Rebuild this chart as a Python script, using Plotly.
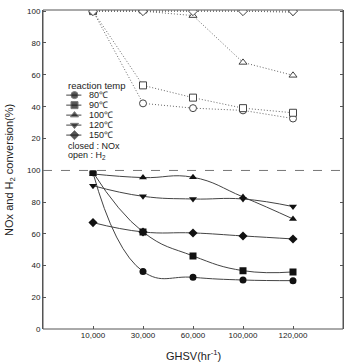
import plotly.graph_objects as go

ghsv = ["10,000", "30,000", "60,000", "100,000", "120,000"]
temps = ["80℃", "90℃", "100℃", "120℃", "150℃"]

# NOx conversion (closed symbols, lower panel)
nox_80 = [98.5, 36.3, 32.6, 30.9, 30.5]
nox_90 = [98.8, 61.2, 46.1, 36.8, 36.0]
nox_100 = [97.8, 95.5, 95.7, 83.3, 69.4]
nox_120 = [90.4, 83.7, 82.0, 82.0, 77.2]
nox_150 = [67.1, 61.2, 60.6, 58.7, 56.8]

# H2 conversion (open symbols, upper panel)
h2_80 = [100, 42.1, 39.1, 37.7, 32.6]
h2_90 = [100, 53.4, 45.7, 39.1, 36.2]
h2_100 = [100, 100, 97.2, 67.8, 59.7]
h2_120 = [100, 100, 100, 100, 99.3]
h2_150 = [100, 100, 100, 100, 100]

lower_ticks = [0, 20, 40, 60, 80, 100]
upper_ticks = [20, 40, 60, 80, 100]

nox = [nox_80, nox_90, nox_100, nox_120, nox_150]
h2 = [h2_80, h2_90, h2_100, h2_120, h2_150]
symbols = ["circle", "square", "triangle-up", "triangle-down", "diamond"]

FONT = "Arial, Liberation Sans, sans-serif"
INK = "#222222"
fig = go.Figure()

for vals, sym in zip(h2, symbols):
    fig.add_trace(go.Scatter(
        x=ghsv, y=vals, xaxis="x", yaxis="y2", mode="lines+markers",
        line=dict(color="#666666", width=1, dash="1px,2px"),
        marker=dict(symbol=sym, size=7, color="white", line=dict(color="#444444", width=1)),
        showlegend=False))

for vals, sym in zip(nox, symbols):
    fig.add_trace(go.Scatter(
        x=ghsv, y=vals, xaxis="x", yaxis="y", mode="lines+markers",
        line=dict(color="#444444", width=1, shape="spline", smoothing=1.3),
        marker=dict(symbol=sym, size=7, color="#111111"),
        showlegend=False))

# manual compact legend
leg_x0, leg_xm, leg_x1, leg_tx = 0.0774, 0.105, 0.128, 0.148
leg_rows = [0.7332, 0.7018, 0.6705, 0.6392, 0.6079]
for name, sym, ry in zip(temps, symbols, leg_rows):
    fig.add_trace(go.Scatter(
        x=[leg_x0, leg_xm, leg_x1], y=[ry, ry, ry], xaxis="x3", yaxis="y3",
        mode="lines+markers", line=dict(color="#444444", width=1),
        marker=dict(symbol=sym, size=[0, 7, 0], color="#111111"),
        showlegend=False, hoverinfo="skip"))
    fig.add_annotation(x=leg_tx, y=ry, xref="paper", yref="paper", text=name,
                       showarrow=False, xanchor="left", yanchor="middle",
                       font=dict(family=FONT, size=9, color=INK))

fig.add_annotation(x=0.075, y=0.762, xref="paper", yref="paper", text="reaction temp",
                   showarrow=False, xanchor="left", yanchor="middle",
                   font=dict(family=FONT, size=9.5, color=INK))
fig.add_annotation(x=0.075, y=0.5741, xref="paper", yref="paper", text="closed : NOx",
                   showarrow=False, xanchor="left", yanchor="middle",
                   font=dict(family=FONT, size=9, color=INK))
fig.add_annotation(x=0.075, y=0.5444, xref="paper", yref="paper", text="open : H<sub>2</sub>",
                   showarrow=False, xanchor="left", yanchor="middle",
                   font=dict(family=FONT, size=9, color=INK))

# axis titles
fig.add_annotation(x=-0.112, y=0.5, xref="paper", yref="paper",
                   text="NOx and H<sub>2</sub> conversion(%)", textangle=-90,
                   showarrow=False, xanchor="center", yanchor="middle",
                   font=dict(family=FONT, size=11, color=INK))
fig.add_annotation(x=0.5, y=-0.082, xref="paper", yref="paper",
                   text="GHSV(hr<sup>-1</sup>)",
                   showarrow=False, xanchor="center", yanchor="middle",
                   font=dict(family=FONT, size=11, color=INK))

# frame and divider
fig.add_shape(type="rect", xref="paper", yref="paper", x0=0, x1=1, y0=0, y1=1,
              line=dict(color="#555555", width=1))
fig.add_shape(type="line", xref="paper", yref="paper", x0=0, x1=1, y0=0.497, y1=0.497,
              line=dict(color="#777777", width=1, dash="dash"))

tickfont = dict(family=FONT, size=8, color=INK)
fig.update_layout(
    width=347, height=363,
    margin=dict(l=43, r=4, t=10, b=34),
    paper_bgcolor="white", plot_bgcolor="rgba(0,0,0,0)",
    showlegend=False,
    font=dict(family=FONT, size=9, color=INK),
    xaxis=dict(type="category", range=[-1, 5], domain=[0, 1], anchor="y",
               ticks="inside", ticklen=3, tickcolor="#555555", showline=False,
               showgrid=False, zeroline=False, tickfont=tickfont),
    yaxis=dict(domain=[0, 0.497], range=[0, 100], tickvals=lower_ticks,
               ticks="inside", ticklen=3, tickcolor="#555555", mirror="ticks",
               showline=True, linecolor="#555555", showgrid=False, zeroline=False,
               tickfont=tickfont, anchor="x"),
    yaxis2=dict(domain=[0.497, 1], range=[0, 100.7], tickvals=upper_ticks,
                ticks="inside", ticklen=3, tickcolor="#555555", mirror="ticks",
                showline=True, linecolor="#555555", showgrid=False, zeroline=False,
                tickfont=tickfont, anchor="x"),
    xaxis3=dict(domain=[0, 1], range=[0, 1], visible=False, anchor="y3"),
    yaxis3=dict(domain=[0, 1], range=[0, 1], visible=False, anchor="x3"),
)

fig.write_html("out.html")
